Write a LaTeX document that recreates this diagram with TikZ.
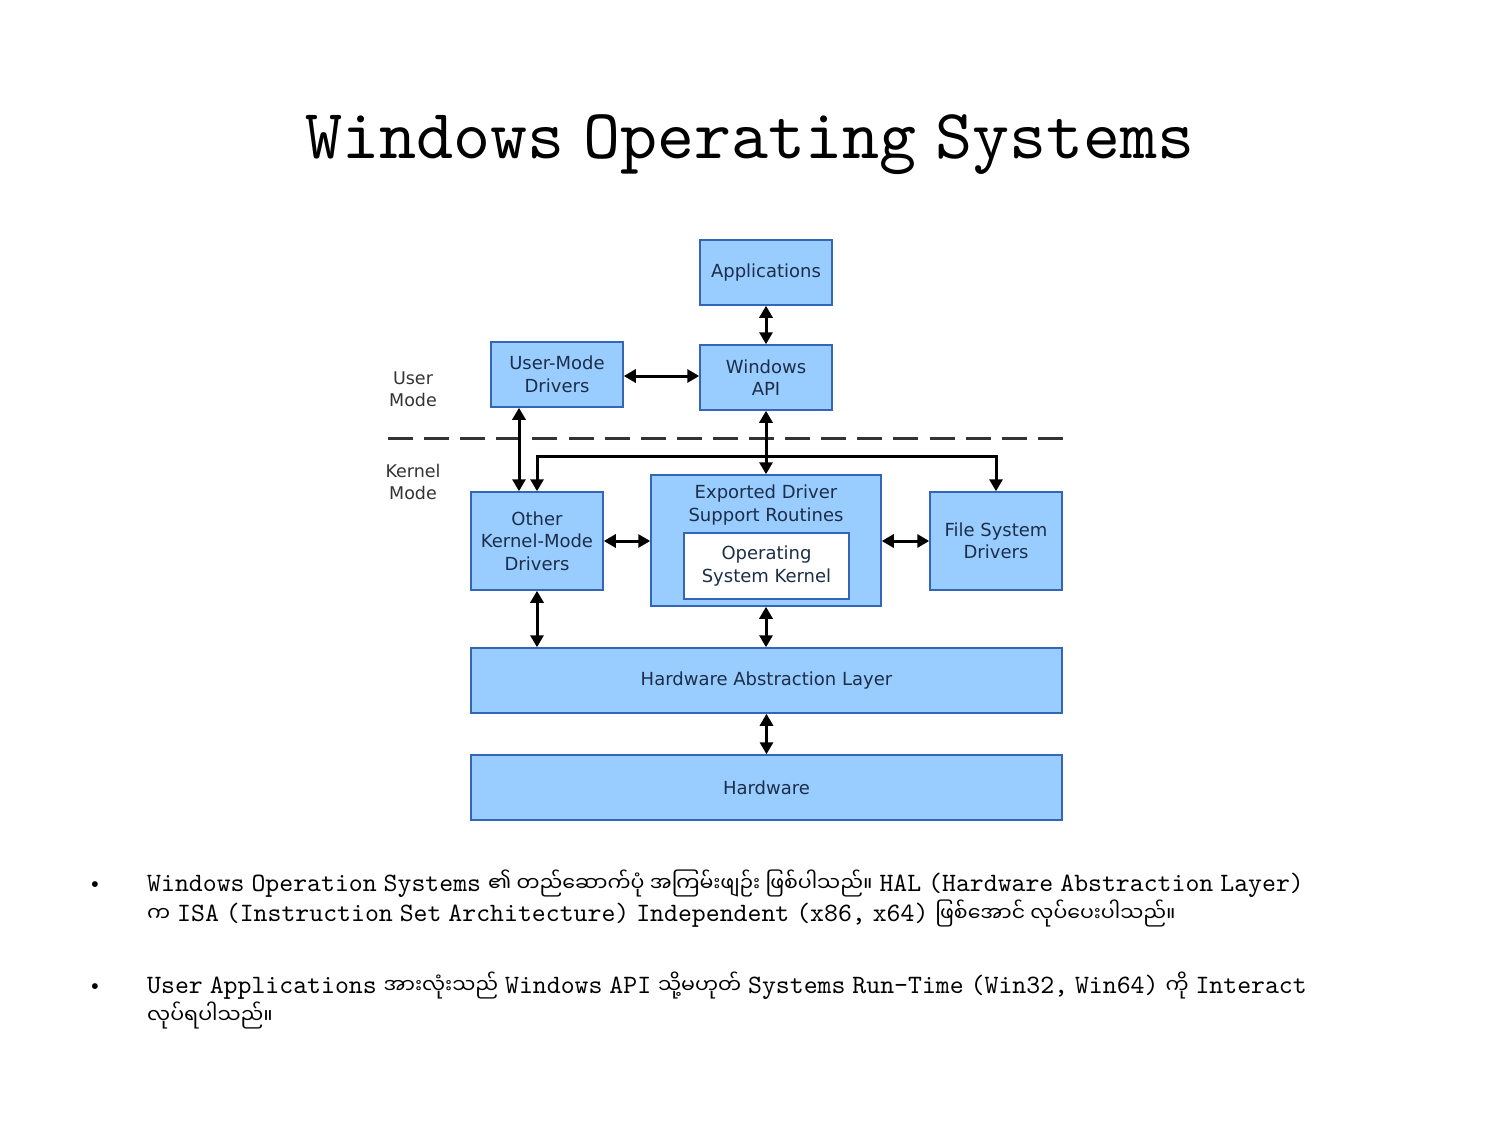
\documentclass[tikz,border=0pt]{standalone}
\usepackage{fontspec}
\usetikzlibrary{arrows.meta}
\newfontfamily\mono{lmmono10-regular.otf}[WordSpace=0.5]
\newfontfamily\dia{DejaVu Sans}
\newfontfamily\mya[Script=Myanmar]{Noto Sans Myanmar UI}
\definecolor{boxfill}{HTML}{99CCFF}
\definecolor{boxline}{HTML}{3366B8}
\definecolor{boxtext}{HTML}{1C2E48}
\definecolor{lbl}{HTML}{333333}
\tikzset{
  blk/.style={draw=boxline, line width=1.5pt, fill=boxfill, text=boxtext, inner sep=0pt,
    font=\dia\fontsize{18}{22.5}\selectfont, align=center},
  conn/.style={line width=3pt, draw=black, {Triangle[width=13pt,length=12pt]}-{Triangle[width=13pt,length=12pt]}},
  oneway/.style={line width=3pt, draw=black, -{Triangle[width=13pt,length=12pt]}},
  modelbl/.style={text=lbl, font=\dia\fontsize{17.5}{22}\selectfont, align=center},
  bodytxt/.style={anchor=base west, inner sep=0pt, font=\mono\fontsize{26.5}{30}\selectfont},
}
\newcommand{\my}[1]{{\mya\fontsize{20.5}{30}\selectfont #1}}
\begin{document}
\begin{tikzpicture}[x=1pt,y=-1pt]
\useasboundingbox (0,0) rectangle (1502,1127);
% title
\node[anchor=base, inner sep=0pt, font=\mono\fontsize{70.5}{80}\selectfont] (title) at (750,158) {Windows Operating Systems};
% boxes
\node[blk, minimum width=132pt, minimum height=65pt] (app) at (766,272.5) {Applications};
\node[blk, minimum width=132pt, minimum height=65pt] (api) at (766,377.5) {Windows\\API};
\node[blk, minimum width=132pt, minimum height=65pt] (umd) at (557,374.5) {User-Mode\\Drivers};
\node[blk, minimum width=132pt, minimum height=98pt] (okm) at (537,541) {Other\\Kernel-Mode\\Drivers};
\node[blk, minimum width=230pt, minimum height=131pt] (exp) at (766,540.5) {};
\node[text=boxtext, font=\dia\fontsize{18}{22.5}\selectfont, align=center, inner sep=0pt] (exptxt) at (766,505) {Exported Driver\\Support Routines};
\node[blk, fill=white, minimum width=165pt, minimum height=66pt] (osk) at (766.5,566) {Operating\\System Kernel};
\node[blk, minimum width=132pt, minimum height=98pt] (fsd) at (996,541) {File System\\Drivers};
\node[blk, minimum width=591pt, minimum height=65pt] (hal) at (766.5,680.5) {Hardware Abstraction Layer};
\node[blk, minimum width=591pt, minimum height=65pt] (hw) at (766.5,787.5) {Hardware};
% mode labels
\node[modelbl] (um) at (413,389) {User\\Mode};
\node[modelbl] (km) at (413,482) {Kernel\\Mode};
\coordinate (dl) at (388,438);
\coordinate (dr) at (1063,438);
\draw[line width=3pt, draw=lbl, dash pattern=on 25pt off 11.1pt] (dl) -- (dr);
% connectors
\draw[conn] (app.south) -- (api.north);
\draw[conn] (umd.east |- 0,376) -- (api.west |- 0,376);
\draw[conn] ([xshift=-38pt]umd.south) -- ([xshift=-18pt]okm.north);
\draw[conn] (api.south) -- (exp.north);
\coordinate (j) at (766,456);
\draw[oneway] (j) -| (okm.north);
\draw[oneway] (j) -| (fsd.north);
\draw[conn] (okm.east) -- (exp.west |- okm.east);
\draw[conn] (exp.east |- fsd.west) -- (fsd.west);
\draw[conn] (okm.south) -- (okm.south |- hal.north);
\draw[conn] (exp.south) -- (exp.south |- hal.north);
\draw[conn] (hal.south) -- (hw.north);
% bullets
\node[anchor=base, inner sep=0pt, font=\fontsize{26}{30}\selectfont] (b1) at (95,891) {\textbullet};
\node[bodytxt] (l1) at (147,891) {Windows Operation Systems \my{၏ တည်ဆောက်ပုံ အကြမ်းဖျဉ်း ဖြစ်ပါသည်။} HAL (Hardware Abstraction Layer)};
\node[bodytxt] (l2) at (147,921) {\my{က} ISA (Instruction Set Architecture) Independent (x86, x64) \my{ဖြစ်အောင် လုပ်ပေးပါသည်။}};
\node[anchor=base, inner sep=0pt, font=\fontsize{26}{30}\selectfont] (b2) at (95,993) {\textbullet};
\node[bodytxt] (l3) at (147,993) {User Applications \my{အားလုံးသည်} Windows API \my{သို့မဟုတ်} Systems Run-Time (Win32, Win64) \my{ကို} Interact};
\node[bodytxt] (l4) at (147,1023) {\my{လုပ်ရပါသည်။}};
\end{tikzpicture}
\end{document}
